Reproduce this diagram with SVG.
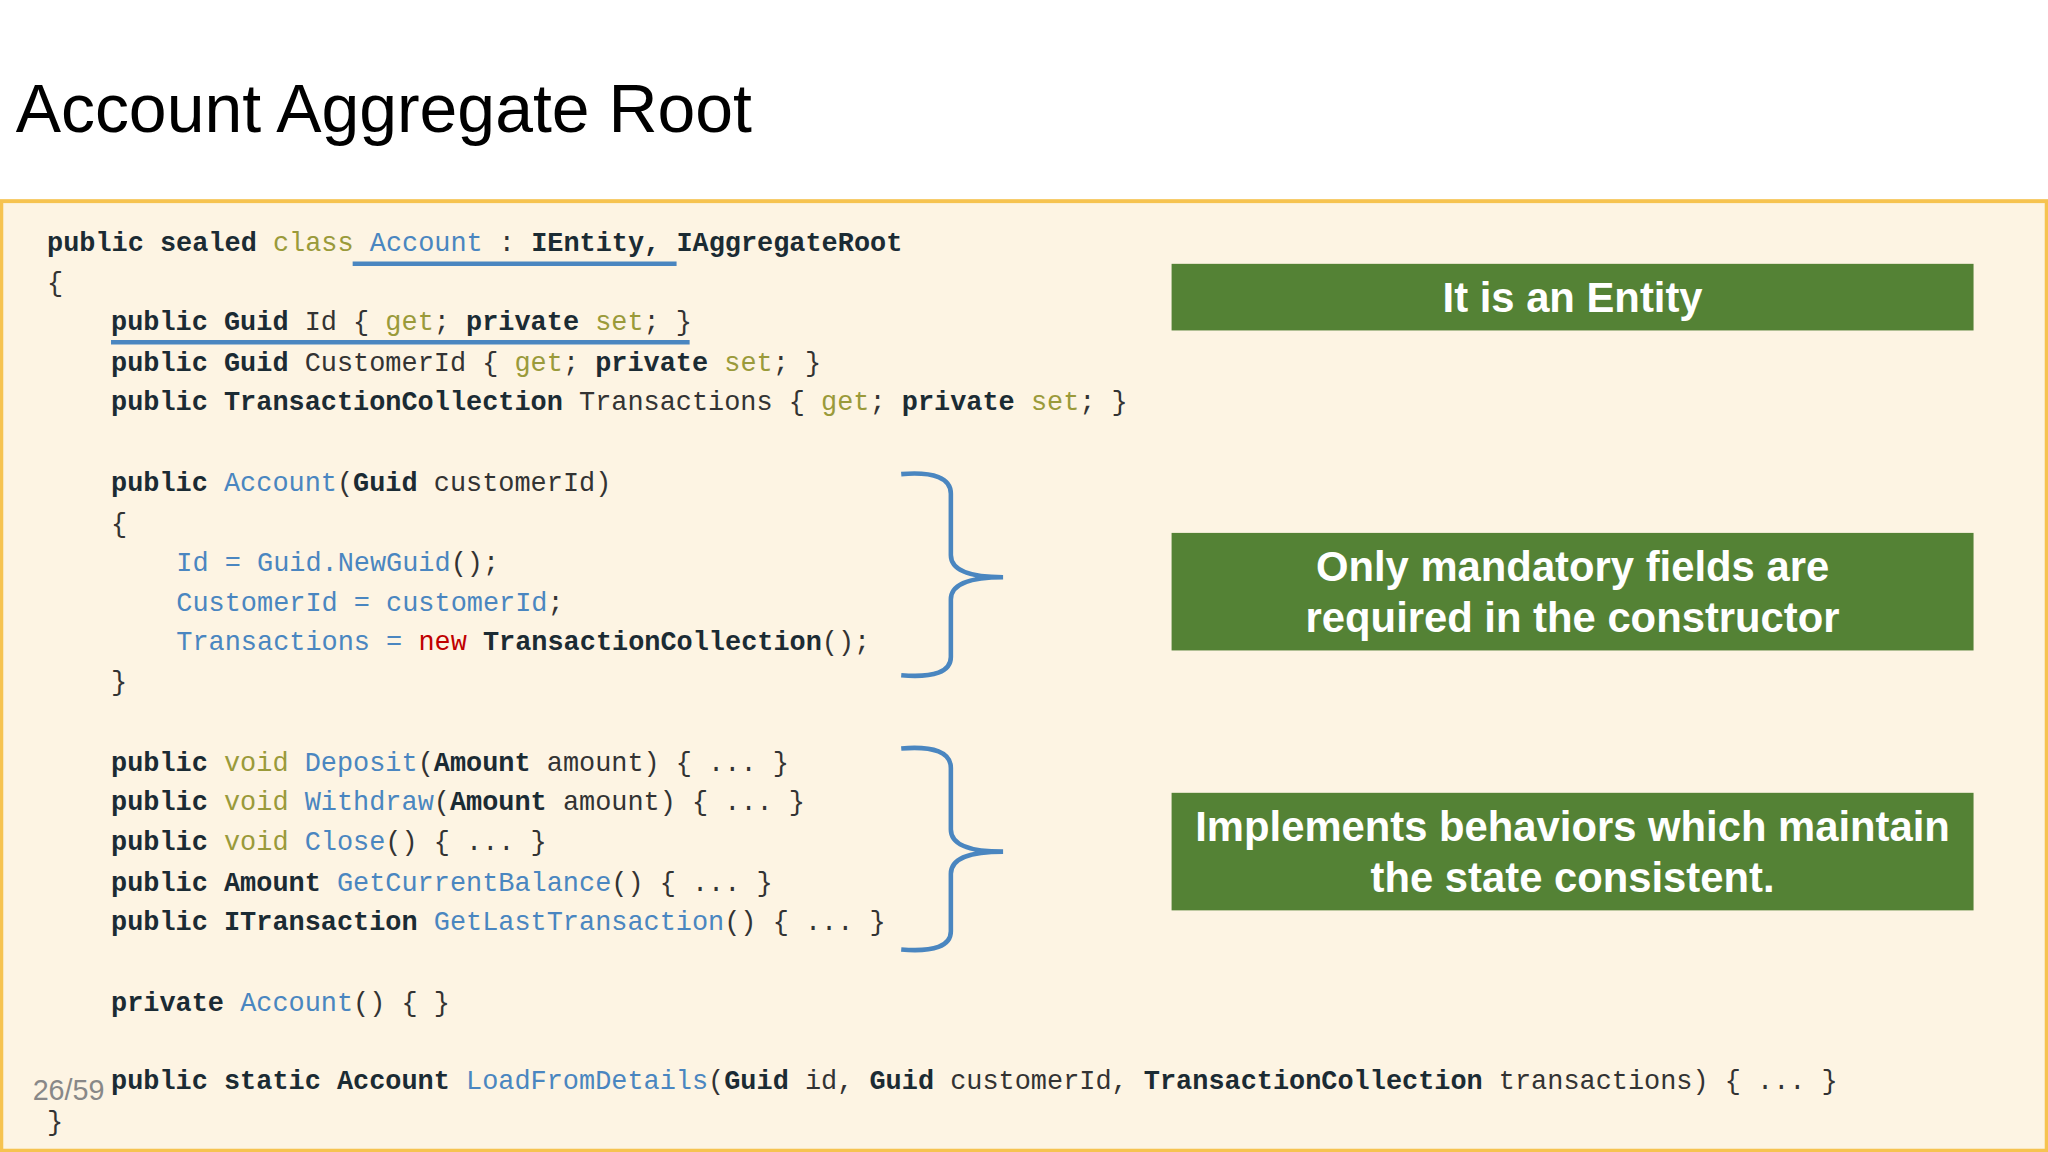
<svg xmlns="http://www.w3.org/2000/svg" width="2048" height="1152" viewBox="0 0 2048 1152">
<style>
.c{font-family:"Liberation Mono","DejaVu Sans Mono",monospace;font-size:20.6px;fill:#333;white-space:pre}
.k{font-weight:bold;fill:#1b2b33}
.o{fill:#9a9a3a}
.b{fill:#4a86c0}
.r{fill:#c00000}
.g{fill:#548235}
.t{font-family:"Liberation Sans",Arial,sans-serif;font-weight:bold;font-size:32px;fill:#fff;text-anchor:middle}
.br{fill:none;stroke:#4a86c0;stroke-width:3.5}
</style>
<rect width="2048" height="1152" fill="#fff"/>
<g transform="scale(1.30612)">
<text x="12" y="101" font-family="Liberation Sans,Arial,sans-serif" font-size="52" fill="#000">Account Aggregate Root</text>
<rect x="1" y="154" width="1566" height="727" fill="#fdf4e3" stroke="#f6c350" stroke-width="3"/>
<g id="code">
<text class="c" x="36" y="192"><tspan class="k">public sealed </tspan><tspan class="o">class </tspan><tspan class="b">Account</tspan> : <tspan class="k">IEntity, IAggregateRoot</tspan></text>
<text class="c" x="36" y="223">{</text>
<text class="c" x="85" y="253"><tspan class="k">public Guid </tspan>Id { <tspan class="o">get</tspan>; <tspan class="k">private </tspan><tspan class="o">set</tspan>; }</text>
<text class="c" x="85" y="284"><tspan class="k">public Guid </tspan>CustomerId { <tspan class="o">get</tspan>; <tspan class="k">private </tspan><tspan class="o">set</tspan>; }</text>
<text class="c" x="85" y="314"><tspan class="k">public TransactionCollection </tspan>Transactions { <tspan class="o">get</tspan>; <tspan class="k">private </tspan><tspan class="o">set</tspan>; }</text>
<text class="c" x="85" y="376"><tspan class="k">public </tspan><tspan class="b">Account</tspan>(<tspan class="k">Guid </tspan>customerId)</text>
<text class="c" x="85" y="407">{</text>
<text class="c" x="135" y="437"><tspan class="b">Id = Guid.NewGuid</tspan>();</text>
<text class="c" x="135" y="468"><tspan class="b">CustomerId = customerId</tspan>;</text>
<text class="c" x="135" y="498"><tspan class="b">Transactions = </tspan><tspan class="r">new </tspan><tspan class="k" font-weight="normal">TransactionCollection</tspan>();</text>
<text class="c" x="85" y="528">}</text>
<text class="c" x="85" y="590"><tspan class="k">public </tspan><tspan class="o">void </tspan><tspan class="b">Deposit</tspan>(<tspan class="k">Amount </tspan>amount) { ... }</text>
<text class="c" x="85" y="620"><tspan class="k">public </tspan><tspan class="o">void </tspan><tspan class="b">Withdraw</tspan>(<tspan class="k">Amount </tspan>amount) { ... }</text>
<text class="c" x="85" y="651"><tspan class="k">public </tspan><tspan class="o">void </tspan><tspan class="b">Close</tspan>() { ... }</text>
<text class="c" x="85" y="682"><tspan class="k">public Amount </tspan><tspan class="b">GetCurrentBalance</tspan>() { ... }</text>
<text class="c" x="85" y="712"><tspan class="k">public ITransaction </tspan><tspan class="b">GetLastTransaction</tspan>() { ... }</text>
<text class="c" x="85" y="774"><tspan class="k">private </tspan><tspan class="b">Account</tspan>() { }</text>
<text class="c" x="85" y="834"><tspan class="k">public static Account </tspan><tspan class="b">LoadFromDetails</tspan>(<tspan class="k">Guid </tspan>id, <tspan class="k">Guid </tspan>customerId, <tspan class="k">TransactionCollection </tspan>transactions) { ... }</text>
<text class="c" x="36" y="865">}</text>
<line x1="270" y1="202" x2="518" y2="202" stroke="#4a86c0" stroke-width="3.5"/>
<line x1="85" y1="262" x2="528" y2="262" stroke="#4a86c0" stroke-width="3.5"/>
</g>
<g id="braces">
<path class="br" d="M690 363 Q728 360 728 378 L728 425 Q728 442 768 442 Q728 442 728 459 L728 503 Q728 520 690 517"/>
<path class="br" d="M690 573 Q728 570 728 588 L728 635 Q728 652 768 652 Q728 652 728 669 L728 713 Q728 730 690 727"/>
</g>
<g id="n1"><rect class="g" x="897" y="202" width="614" height="51"/><text class="t" x="1204" y="239">It is an Entity</text></g>
<g id="n2"><rect class="g" x="897" y="408" width="614" height="90"/><text class="t" x="1204" y="445">Only mandatory fields are</text><text class="t" x="1204" y="484">required in the constructor</text></g>
<g id="n3"><rect class="g" x="897" y="607" width="614" height="90"/><text class="t" x="1204" y="644">Implements behaviors which maintain</text><text class="t" x="1204" y="683">the state consistent.</text></g>
<text x="25" y="842" font-family="Liberation Sans,Arial,sans-serif" font-size="22" fill="#888">26/59</text>
</g>
</svg>
